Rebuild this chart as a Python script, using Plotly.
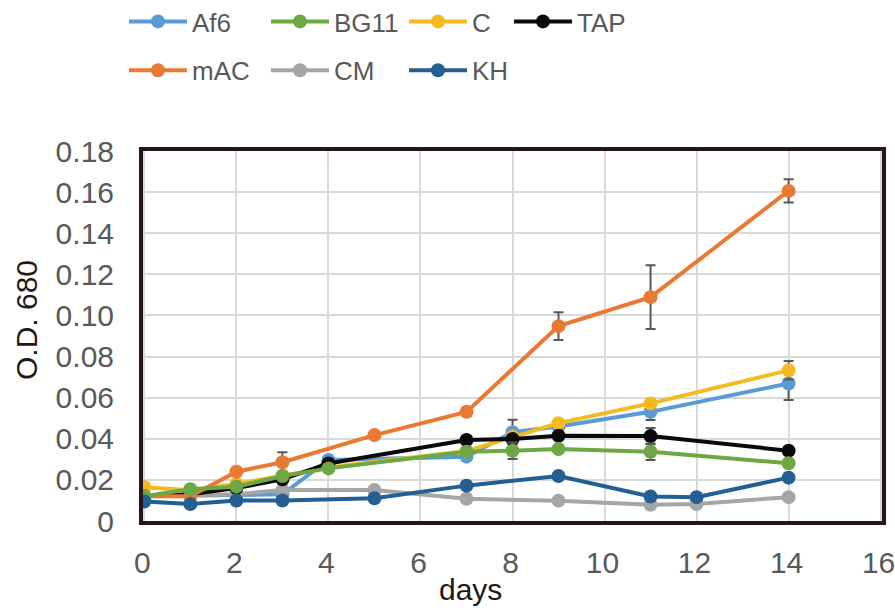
import plotly.graph_objects as go

# ---- data ----
days_af6 = [0, 3, 4, 7, 8, 9, 11, 14]
af6 = [0.012, 0.013, 0.0297, 0.0313, 0.0432, 0.046, 0.0531, 0.0669]
af6_err = [0, 0, 0, 0, 0.006, 0, 0.004, 0.008]

days_bg11 = [0, 1, 2, 3, 4, 7, 8, 9, 11, 14]
bg11 = [0.012, 0.0155, 0.0167, 0.0219, 0.0256, 0.0337, 0.0342, 0.035, 0.0337, 0.0281]
bg11_err = [0, 0, 0, 0, 0, 0, 0.004, 0, 0.004, 0]

days_c = [0, 1, 2, 3, 4, 7, 8, 9, 11, 14]
c_med = [0.0164, 0.015, 0.018, 0.022, 0.026, 0.034, 0.041, 0.0476, 0.0572, 0.0733]
c_err = [0, 0, 0, 0, 0, 0, 0, 0, 0.002, 0.0045]

days_tap = [0, 1, 2, 3, 4, 7, 8, 9, 11, 14]
tap = [0.012, 0.013, 0.016, 0.0203, 0.028, 0.0394, 0.0399, 0.0415, 0.0413, 0.0342]
tap_err = [0, 0, 0, 0, 0, 0, 0, 0, 0.004, 0]

days_mac = [0, 1, 2, 3, 5, 7, 9, 11, 14]
mac = [0.012, 0.012, 0.024, 0.0286, 0.0418, 0.0531, 0.0948, 0.1089, 0.1606]
mac_err = [0, 0, 0, 0.0048, 0, 0.002, 0.0067, 0.0155, 0.0057]

days_cm = [0, 1, 2, 3, 5, 7, 9, 11, 12, 14]
cm = [0.012, 0.0127, 0.013, 0.0151, 0.0151, 0.0108, 0.0099, 0.0079, 0.0083, 0.0116]

days_kh = [0, 1, 2, 3, 5, 7, 9, 11, 12, 14]
kh = [0.0095, 0.0083, 0.010, 0.010, 0.0111, 0.0172, 0.0219, 0.0119, 0.0116, 0.0211]

y_ticks = [0, 0.02, 0.04, 0.06, 0.08, 0.10, 0.12, 0.14, 0.16, 0.18]
y_tick_labels = ["0", "0.02", "0.04", "0.06", "0.08", "0.10", "0.12", "0.14", "0.16", "0.18"]
x_ticks = [0, 2, 4, 6, 8, 10, 12, 14, 16]
x_title = "days"
y_title = "O.D. 680"

# ---- styling ----
FONT = "Liberation Sans, Arial, sans-serif"
TXT = "#595959"
ERRC = "#595959"
DARK = "#231816"

def series(name, x, y, color, legend, rank, err=None):
    kw = {}
    if err is not None:
        kw["error_y"] = dict(type="data", array=err, visible=True,
                             color=ERRC, thickness=2, width=5)
    return go.Scatter(x=x, y=y, name=name, mode="lines+markers",
                      line=dict(color=color, width=4),
                      marker=dict(color=color, size=14),
                      legend=legend, legendgroup=name, legendrank=rank, **kw)

fig = go.Figure()
# drawing order (bottom to top)
fig.add_trace(series("Af6", days_af6, af6, "#5B9BD5", "legend", 1, af6_err))
fig.add_trace(series("CM", days_cm, cm, "#A5A5A5", "legend2", 2))
fig.add_trace(series("C", days_c, c_med, "#F5BA1F", "legend3", 1, c_err))
fig.add_trace(series("TAP", days_tap, tap, "#0A0A0A", "legend4", 1, tap_err))
fig.add_trace(series("mAC", days_mac, mac, "#E87A33", "legend", 2, mac_err))
fig.add_trace(series("BG11", days_bg11, bg11, "#6DA845", "legend2", 1, bg11_err))
fig.add_trace(series("KH", days_kh, kh, "#245F91", "legend3", 2))

# legend layout: 4 columns
W, H = 895, 611
ml, mr, mt, mb = 143, 13, 151, 90
pw = W - ml - mr
ph = H - mt - mb

def px_x(p):
    return (p - ml) / pw

def px_y(p):
    return (H - mb - p) / ph

leg_common = dict(font=dict(family=FONT, size=26, color=TXT),
                  bgcolor="rgba(0,0,0,0)", borderwidth=0,
                  orientation="v", xanchor="left", yanchor="top",
                  tracegroupgap=12, itemwidth=58, traceorder="grouped")

fig.update_layout(
    width=W, height=H,
    margin=dict(l=ml, r=mr, t=mt, b=mb, autoexpand=False),
    paper_bgcolor="white", plot_bgcolor="white",
    font=dict(family=FONT, color=TXT),
    showlegend=True,
    legend=dict(x=px_x(124), y=px_y(-2), **leg_common),
    legend2=dict(x=px_x(266), y=px_y(-2), **leg_common),
    legend3=dict(x=px_x(404), y=px_y(-2), **leg_common),
    legend4=dict(x=px_x(509), y=px_y(-2), **leg_common),
    xaxis=dict(range=[-0.03, 16.03], tickvals=x_ticks, showgrid=True,
               gridcolor="#D9D9D9", gridwidth=2, zeroline=False,
               showline=True, mirror=True, linecolor=DARK, linewidth=4,
               ticks="", ticklabelstandoff=12, ticklabeloverflow="allow",
               ticklabelshift=-2,
               tickfont=dict(family=FONT, size=30, color=TXT)),
    yaxis=dict(range=[0, 0.18], tickvals=y_ticks, ticktext=y_tick_labels,
               showgrid=True, gridcolor="#D9D9D9", gridwidth=2, zeroline=False,
               showline=True, mirror=True, linecolor=DARK, linewidth=4,
               ticks="", ticklabelstandoff=19, ticklabeloverflow="allow",
               tickfont=dict(family=FONT, size=30, color=TXT)),
    annotations=[
        dict(text=x_title, xref="paper", yref="paper", x=px_x(470), y=px_y(589),
             xanchor="center", yanchor="middle", showarrow=False,
             font=dict(family=FONT, size=30, color=DARK)),
        dict(text=y_title, xref="paper", yref="paper", x=px_x(26), y=px_y(320),
             xanchor="center", yanchor="middle", showarrow=False, textangle=-90,
             font=dict(family=FONT, size=30, color=DARK)),
    ],
)

fig.write_html("out.html")
